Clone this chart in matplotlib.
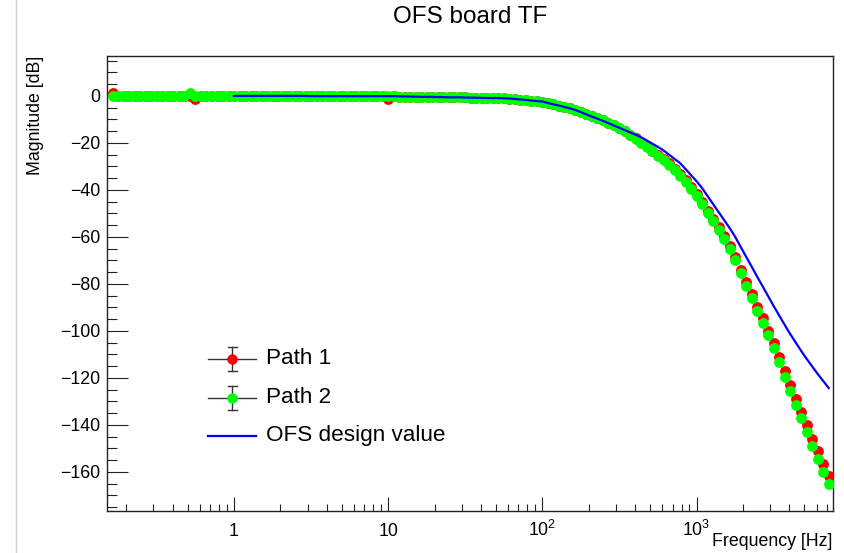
import matplotlib
matplotlib.use("Agg")
import matplotlib.pyplot as plt
from matplotlib.lines import Line2D
from matplotlib.ticker import FixedLocator, MultipleLocator, NullFormatter, LogLocator
import matplotlib.transforms as mtransforms

plt.rcParams['font.family'] = ['Liberation Sans', 'DejaVu Sans']
plt.rcParams['mathtext.fontset'] = 'custom'
plt.rcParams['mathtext.rm'] = 'Liberation Sans'
plt.rcParams['mathtext.it'] = 'Liberation Sans:italic'
plt.rcParams['mathtext.bf'] = 'Liberation Sans:bold'

# ---------------- data ----------------
freq = [0.1638, 0.1778, 0.1931, 0.2096, 0.2276, 0.2471, 0.2683, 0.2913, 0.3162, 0.3433,
        0.3728, 0.4047, 0.4394, 0.4771, 0.5179, 0.5623, 0.6105, 0.6629, 0.7197, 0.7814,
        0.8483, 0.9211,
        1.000, 1.086, 1.179, 1.280, 1.389, 1.509, 1.638, 1.778, 1.931, 2.096, 2.276, 2.471,
        2.683, 2.913, 3.162, 3.433, 3.728, 4.047, 4.394, 4.771, 5.179, 5.623, 6.105, 6.629,
        7.197, 7.814, 8.483, 9.211,
        10.00, 10.86, 11.79, 12.80, 13.89, 15.09, 16.38, 17.78, 19.31, 20.96, 22.76, 24.71,
        26.83, 29.13, 31.62, 34.33, 37.28, 40.47, 43.94, 47.71, 51.79, 56.23, 61.05, 66.29,
        71.97, 78.14, 84.83, 92.11,
        100.0, 108.6, 117.9, 128.0, 138.9, 150.9, 163.8, 177.8, 193.1, 209.6, 227.6, 247.1,
        268.3, 291.3, 316.2, 343.3, 372.8, 404.7, 439.4, 477.1, 517.9, 562.3, 610.5, 662.9,
        719.7, 781.4, 848.3, 921.1,
        1000, 1086, 1179, 1280, 1389, 1509, 1638, 1778, 1931, 2096, 2276, 2471, 2683, 2913,
        3162, 3433, 3728, 4047, 4394, 4771, 5179, 5623, 6105, 6629, 7197]

path1_db = [1.2, 0, 0, 0, 0, 0, 0, 0, 0, 0, 0, 0, 0, 0, 0, -1.2, 0, 0, 0, 0, 0, 0,
            0, 0, 0, 0, 0, 0, 0, 0, 0, 0, 0, 0, 0, 0, 0, 0, 0, 0, 0, 0, 0, 0,
            -0.1, -0.1, -0.1, -0.1, -0.2, -0.2,
            -1.2, -0.2, -0.3, -0.3, -0.3, -0.3, -0.4, -0.4, -0.4, -0.4, -0.5, -0.5, -0.5,
            -0.6, -0.6, -0.7, -0.7, -0.8, -0.8, -0.9, -0.9, -1.0, -1.1, -1.3, -1.6, -1.8,
            -2.0, -2.3,
            -2.5, -3.0, -3.6, -4.1, -4.7, -5.2, -5.9, -6.8, -7.6, -8.5, -9.4, -10.4, -11.4,
            -12.5, -13.5, -15.0, -16.6, -18.1, -19.8, -21.5, -23.3, -25.1, -26.9, -28.7,
            -31.0, -33.4, -35.9, -38.7,
            -41.6, -45.2, -48.9, -52.4, -55.9, -59.5, -63.9, -68.7, -73.9, -79.2, -84.5,
            -89.7, -94.7, -99.9, -105.1, -111.1, -117.1, -123.0, -128.8, -134.5, -140.1,
            -145.8, -151.2, -156.7, -161.6]

path2_db = [0, 0, 0, 0, 0, 0, 0, 0, 0, 0, 0, 0, 0, 0, 1.3, 0, 0, 0, 0, 0, 0, 0,
            0, 0, 0, 0, 0, 0, 0, 0, 0, 0, 0, 0, 0, 0, 0, 0, 0, 0, 0, 0, 0, 0,
            -0.1, -0.1, -0.1, -0.1, -0.2, -0.2,
            -0.2, -0.2, -0.3, -0.3, -0.3, -0.3, -0.4, -0.4, -0.4, -0.4, -0.5, -0.5, -0.5,
            -0.6, -0.6, -0.7, -0.7, -0.8, -0.8, -0.9, -0.9, -1.0, -1.1, -1.3, -1.6, -1.8,
            -2.0, -2.3,
            -2.5, -3.0, -3.6, -4.1, -4.7, -5.2, -5.9, -6.8, -7.6, -8.5, -9.4, -10.4, -11.4,
            -12.5, -13.5, -15.1, -16.7, -18.3, -20.0, -21.8, -23.6, -25.5, -27.3, -29.2,
            -31.5, -34.0, -36.6, -39.4,
            -42.4, -46.1, -49.8, -53.4, -57.0, -60.7, -65.1, -70.0, -75.3, -80.7, -86.1,
            -91.4, -96.5, -101.8, -107.1, -113.2, -119.4, -125.4, -131.4, -137.2, -143.0,
            -148.8, -154.4, -160.0, -165.1]

design_freq = freq[22:]
design_db = [0, 0, 0, 0, 0, 0, 0, 0, 0, 0, 0, 0, 0, 0,
             -0.1, -0.1, -0.1, -0.1, -0.1, -0.1, -0.1, -0.1, -0.1, -0.1, -0.1, -0.1, -0.1, -0.1,
             -0.1, -0.1, -0.2, -0.2, -0.3, -0.3, -0.4, -0.4, -0.4, -0.5, -0.5, -0.6, -0.6,
             -0.6, -0.7, -0.7, -0.8, -0.8, -0.9, -0.9, -0.9, -1.0, -1.1, -1.3, -1.5, -1.7,
             -2.0, -2.2,
             -2.4, -3.0, -3.6, -4.1, -4.7, -5.3, -6.0, -6.9, -7.9, -8.8, -9.7, -10.6, -11.6,
             -12.6, -13.6, -14.6, -15.6, -16.6, -17.7, -19.0, -20.4, -21.7, -23.2, -25.0,
             -26.8, -28.6, -31.1, -33.7,
             -36.3, -39.2, -42.6, -46.0, -49.4, -52.8, -56.2, -59.9, -64.2, -68.4, -72.6,
             -76.9, -81.0, -85.2, -89.4, -93.4, -97.4, -101.3, -104.9, -108.5, -111.9,
             -115.1, -118.3, -121.3, -124.3]

xtick_vals = [1, 10, 100, 1000]
xtick_labels = ['1', '10', '$10^{2}$', '$10^{3}$']
legend_labels = ['Path 1', 'Path 2', 'OFS design value']

# ---------------- figure ----------------
W, H = 844, 553
fig = plt.figure(figsize=(W / 100, H / 100), dpi=100)
ax = fig.add_axes([107 / W, 1 - 510.7 / H, (832.7 - 107) / W, (510.7 - 55.5) / H])

RED, GREEN, BLUE = '#ff0000', '#00ff00', '#0000ff'
ax.plot(freq, path1_db, 'o', color=RED, ms=7.8, mew=0, zorder=3)
ax.plot(freq, path2_db, 'o', color=GREEN, ms=7.8, mew=0, zorder=4)
ax.plot(design_freq, design_db, '-', color=BLUE, lw=1.6, zorder=5)

ax.set_xscale('log')
ax.set_xlim(0.15, 7640)
ax.set_ylim(-176.5, 17.2)

for s in ax.spines.values():
    s.set_color('#222222')
    s.set_linewidth(1.0)

ax.yaxis.set_major_locator(MultipleLocator(20))
ax.yaxis.set_minor_locator(MultipleLocator(5))
ax.tick_params(axis='y', which='major', direction='in', length=15, width=0.8,
               color='#222222', labelsize=12.8, pad=5, right=False)
ax.tick_params(axis='y', which='minor', direction='in', length=7.2, width=0.8,
               color='#222222', right=False)
ax.xaxis.set_major_locator(FixedLocator(xtick_vals))
ax.xaxis.set_minor_locator(LogLocator(base=10, subs=range(2, 10), numticks=20))
ax.xaxis.set_minor_formatter(NullFormatter())
ax.tick_params(axis='x', which='major', direction='in', length=10, width=0.8,
               color='#222222', labelbottom=False, top=False)
ax.tick_params(axis='x', which='minor', direction='in', length=5, width=0.8,
               color='#222222', top=False)

trans = mtransforms.blended_transform_factory(ax.transData, fig.transFigure)
for v, lab in zip(xtick_vals, xtick_labels):
    ax.text(v, 1 - 535.5 / H, lab, transform=trans, ha='center', va='baseline',
            fontsize=12.8, color='black')

fig.text(832.7 / W, 1 - 541.5 / H, 'Frequency [Hz]', ha='right', va='center', fontsize=12.8)
fig.text(35 / W, 1 - 55.5 / H, 'Magnitude [dB]', ha='center', va='top', rotation=90,
         fontsize=12.8)
fig.text(470 / W, 1 - 17 / H, 'OFS board TF', ha='center', va='center', fontsize=17.5)

# light window border at the left edge of the screenshot
fig.add_artist(Line2D([16 / W, 16 / W], [0, 1], transform=fig.transFigure,
                      color='#cfcfcf', lw=1.0))

# legend, ROOT style (no frame, error-bar symbols)
def fx(px):
    return px / W

def fy(py):
    return 1 - py / H

entries = [(legend_labels[0], RED, True), (legend_labels[1], GREEN, True),
           (legend_labels[2], BLUE, False)]
for i, (lab, col, has_marker) in enumerate(entries):
    yc = 359 + 38.5 * i
    if has_marker:
        fig.add_artist(Line2D([fx(208), fx(256)], [fy(yc), fy(yc)], transform=fig.transFigure,
                              color='#333333', lw=1.0))
        fig.add_artist(Line2D([fx(232), fx(232)], [fy(yc - 12), fy(yc + 12)],
                              transform=fig.transFigure, color='#333333', lw=1.0))
        for yy in (yc - 12, yc + 12):
            fig.add_artist(Line2D([fx(228), fx(236.5)], [fy(yy), fy(yy)],
                                  transform=fig.transFigure, color='#333333', lw=1.0))
        fig.add_artist(Line2D([fx(232)], [fy(yc)], transform=fig.transFigure, marker='o',
                              ms=7.5, mew=0, color=col, linestyle='none'))
    else:
        fig.add_artist(Line2D([fx(208), fx(256)], [fy(yc), fy(yc)], transform=fig.transFigure,
                              color=col, lw=1.6))
    fig.text(fx(266.5), fy(yc), lab, ha='left', va='center', fontsize=16.2)

fig.savefig('out.png', dpi=100)
